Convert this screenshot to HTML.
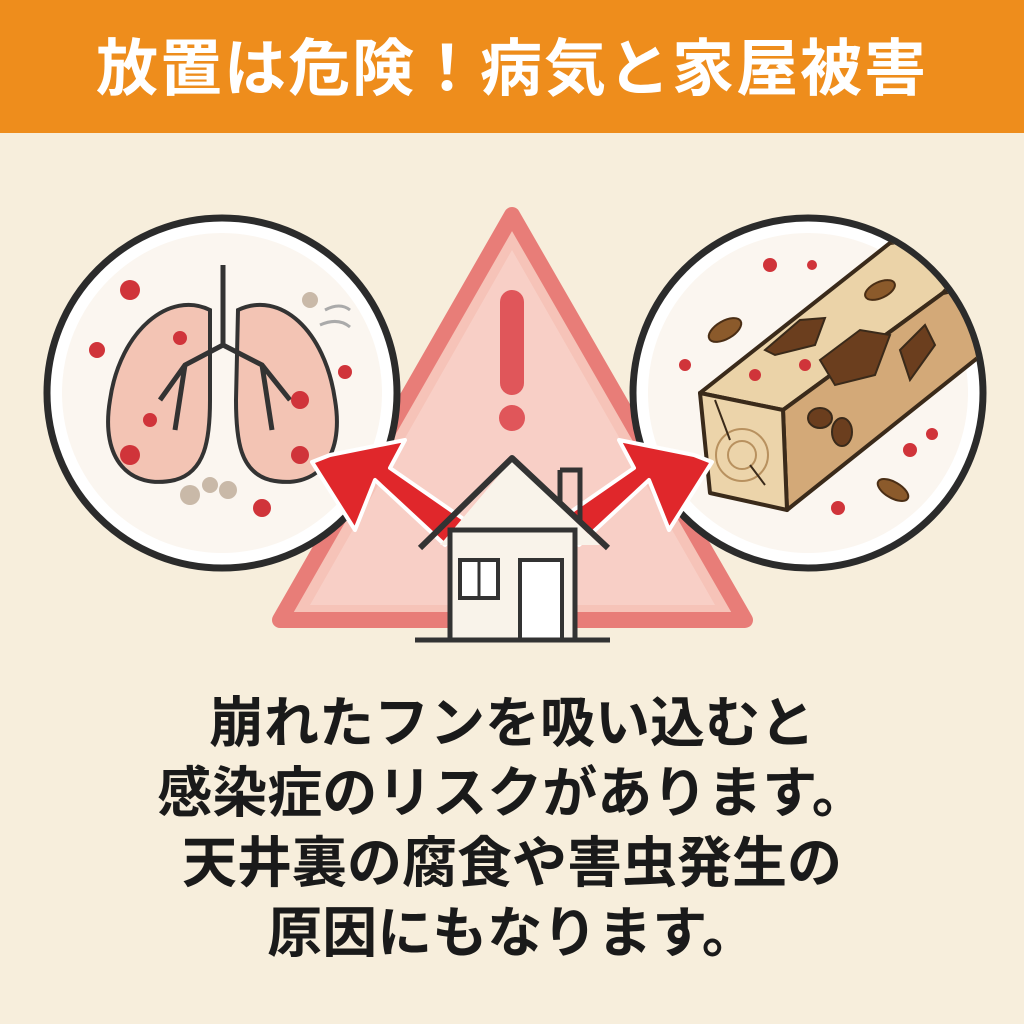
<!DOCTYPE html>
<html><head><meta charset="utf-8"><style>
html,body{margin:0;padding:0}
body{width:1024px;height:1024px;background:#F7EEDC;position:relative;overflow:hidden;font-family:"Liberation Sans","Noto Sans CJK JP",sans-serif}
.hdr{position:absolute;left:0;top:0;width:1024px;height:133px;background:#EE8D1C;color:#fff;font-weight:bold;font-size:62px;text-align:center;line-height:140px;letter-spacing:2px}
.txt{position:absolute;left:0;width:1024px;text-align:center;font-weight:bold;font-size:55px;color:#1a1a1a;line-height:70px;top:688px}
svg{position:absolute;left:0;top:0}
</style></head><body>
<div class="hdr">放置は危険！病気と家屋被害</div>
<svg width="1024" height="1024" viewBox="0 0 1024 1024">
<defs><clipPath id="rc"><circle cx="808" cy="393" r="172"/></clipPath></defs>
<path d="M512 215 L745 620 L280 620 Z" fill="#F6C3B8" stroke="#E87D78" stroke-width="16" stroke-linejoin="round"/>
<path d="M512 250 L715 605 L310 605 Z" fill="#F8CFC6"/>
<rect x="500" y="290" width="24" height="105" rx="12" fill="#E0565A"/>
<circle cx="512" cy="418" r="13" fill="#E0565A"/>
<circle cx="222" cy="393" r="175" fill="#fff" stroke="#2b2b2b" stroke-width="7"/>
<circle cx="222" cy="393" r="160" fill="#FBF6F0"/>
<path d="M210 310 C170 290 120 330 110 400 C100 460 130 490 175 480 C205 472 210 440 210 400 Z" fill="#F3C4B4" stroke="#333" stroke-width="4"/>
<path d="M238 310 C280 290 325 330 335 400 C345 460 315 490 270 480 C240 472 236 440 236 400 Z" fill="#F3C4B4" stroke="#333" stroke-width="4"/>
<path d="M223 265 V345 M223 345 L185 365 L160 400 M185 365 L175 430 M223 345 L262 365 L290 400 M262 365 L272 430" stroke="#333" stroke-width="5" fill="none"/>
<g fill="#D0343A">
<circle cx="130" cy="290" r="10"/><circle cx="97" cy="350" r="8"/><circle cx="180" cy="338" r="7"/><circle cx="130" cy="455" r="10"/><circle cx="300" cy="400" r="9"/><circle cx="300" cy="455" r="9"/><circle cx="262" cy="508" r="9"/><circle cx="345" cy="372" r="7"/><circle cx="150" cy="420" r="7"/></g>
<g fill="#C9B9A8"><circle cx="190" cy="495" r="10"/><circle cx="210" cy="485" r="8"/><circle cx="228" cy="490" r="9"/><circle cx="310" cy="300" r="8"/></g>
<path d="M325 310 q15 -8 25 0 M320 325 q18 -8 30 2" stroke="#aaa" stroke-width="3" fill="none"/>
<circle cx="808" cy="393" r="175" fill="#fff" stroke="#2b2b2b" stroke-width="7"/>
<circle cx="808" cy="393" r="160" fill="#FBF6F0"/>
<g clip-path="url(#rc)">
<path d="M700 393 L890 243 L1000 230 L943 293 L783 410 Z" fill="#EBD3A8" stroke="#3a2a1a" stroke-width="4" stroke-linejoin="round"/>
<path d="M783 410 L943 293 L1000 280 L1000 340 L787 510 Z" fill="#D3A978" stroke="#3a2a1a" stroke-width="4" stroke-linejoin="round"/>
</g>
<path d="M700 393 L783 410 L787 510 L710 493 Z" fill="#ECD4AA" stroke="#3a2a1a" stroke-width="4" stroke-linejoin="round"/>
<circle cx="742" cy="455" r="26" fill="none" stroke="#B8915F" stroke-width="2"/>
<circle cx="742" cy="455" r="14" fill="none" stroke="#B8915F" stroke-width="2"/>
<path d="M715 400 L730 440 M750 465 L765 485" stroke="#3a2a1a" stroke-width="2"/>
<g fill="#6B3E1E" stroke="#3a2a1a" stroke-width="2"><path d="M765 350 L800 320 L825 318 L815 345 L775 355 Z"/><path d="M820 360 L860 330 L890 335 L875 375 L835 385 Z"/><path d="M900 350 L925 325 L935 345 L910 380 Z"/><ellipse cx="820" cy="418" rx="12" ry="10"/><ellipse cx="842" cy="432" rx="10" ry="14"/></g>
<g fill="#D0343A"><circle cx="755" cy="375" r="6"/><circle cx="805" cy="365" r="6"/><circle cx="770" cy="265" r="7"/><circle cx="812" cy="265" r="5"/><circle cx="685" cy="365" r="6"/><circle cx="838" cy="508" r="7"/><circle cx="910" cy="450" r="7"/><circle cx="932" cy="434" r="6"/></g>
<g fill="#8B5A2B" stroke="#4a2e15" stroke-width="2"><ellipse cx="725" cy="330" rx="18" ry="9" transform="rotate(-30 725 330)"/><ellipse cx="880" cy="290" rx="16" ry="8" transform="rotate(-25 880 290)"/><ellipse cx="893" cy="490" rx="17" ry="8" transform="rotate(30 893 490)"/></g>
<path d="M445 545 L375 480 L355 530 L312 462 L330 455 L405 440 L390 468 L465 520 Z" fill="#E0272B" stroke="#fff" stroke-width="4" stroke-linejoin="round"/>
<path d="M579 545 L649 480 L669 530 L712 462 L694 455 L619 440 L634 468 L559 520 Z" fill="#E0272B" stroke="#fff" stroke-width="4" stroke-linejoin="round"/>
<path d="M440 545 L512 460 L600 545 Z" fill="#F9F3EA"/>
<rect x="450" y="530" width="125" height="110" fill="#F9F3EA" stroke="#333" stroke-width="5"/>
<path d="M420 548 L512 458 L608 548" fill="none" stroke="#333" stroke-width="6" stroke-linejoin="round"/>
<path d="M560 470 V505 M560 470 H580 V520" fill="none" stroke="#333" stroke-width="5"/>
<rect x="460" y="560" width="38" height="38" fill="#fff" stroke="#333" stroke-width="4"/>
<path d="M479 560 V598" stroke="#333" stroke-width="3"/>
<rect x="520" y="560" width="42" height="80" fill="#fff" stroke="#333" stroke-width="4"/>
<path d="M415 640 H610" stroke="#333" stroke-width="5"/>
</svg>
<div class="txt">崩れたフンを吸い込むと<br>感染症のリスクがあります。<br>天井裏の腐食や害虫発生の<br>原因にもなります。</div>
</body></html>
